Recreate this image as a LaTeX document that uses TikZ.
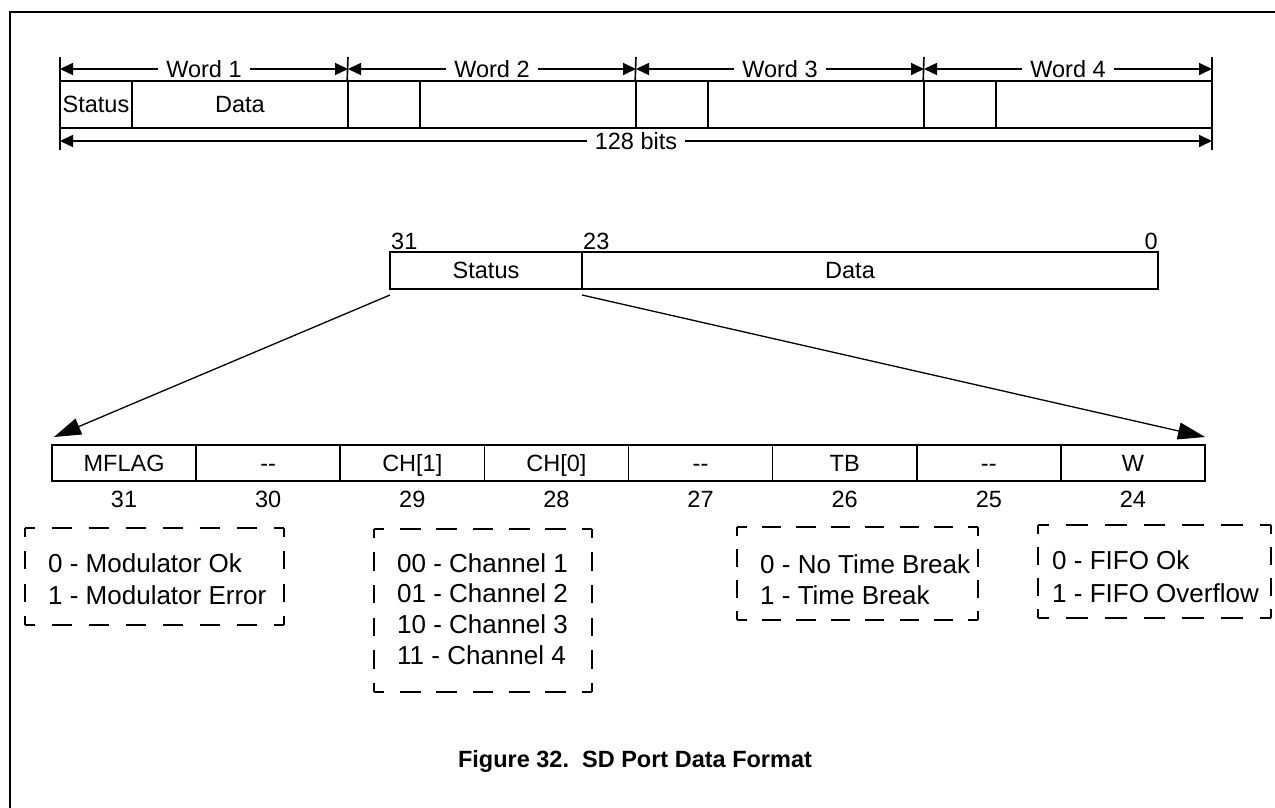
\documentclass[tikz,border=0pt]{standalone}
\usepackage{fontspec}
\setmainfont{Liberation Sans}
\usetikzlibrary{arrows.meta}
\newcommand{\mydashseg}[4]{%
  \pgfmathsetmacro\dsL{veclen((#3)-(#1),(#4)-(#2))}%
  \pgfmathsetmacro\dsN{max(1,round(\dsL/36))}%
  \pgfmathsetmacro\dsP{\dsL/\dsN}%
  \pgfmathsetmacro\dsOn{0.56*\dsP}%
  \pgfmathsetmacro\dsOff{\dsP-\dsOn}%
  \pgfmathsetmacro\dsPh{\dsOn/2}%
  \draw[dashline, dash pattern=on \dsOn pt off \dsOff pt, dash phase=\dsPh pt] (#1,#2) -- (#3,#4);%
}
\newcommand{\mydashrect}[4]{%
  \mydashseg{#1}{#2}{#3}{#2}\mydashseg{#3}{#2}{#3}{#4}%
  \mydashseg{#3}{#4}{#1}{#4}\mydashseg{#1}{#4}{#1}{#2}%
}
\begin{document}
\begin{tikzpicture}[x=1pt,y=-1pt,
  frameline/.style={line width=2.2pt, line cap=rect},
  lbl/.style={font=\fontsize{23.5}{28}\selectfont, inner sep=0pt, text height=16.8pt, text depth=0pt},
  cell/.style={draw, line width=1.6pt, lbl},
  tick/.style={line width=1.6pt},
  dimarrow/.style={line width=1.6pt, {Triangle[length=13pt,width=12pt]}-{Triangle[length=13pt,width=12pt]}},
  dimlabel/.style={lbl, fill=white, inner xsep=8pt, inner ysep=3pt},
  bigarrow/.style={line width=1.3pt, -{Triangle[length=27pt,width=17pt]}},
  dashline/.style={line width=2pt},
  boxtxt/.style={font=\fontsize{26}{31}\selectfont, anchor=west, inner sep=0pt, text height=18.6pt, text depth=0pt},
  caption/.style={font=\bfseries\fontsize{23.5}{28}\selectfont, inner sep=0pt, text height=16.8pt, text depth=0pt}
]
\useasboundingbox (0,0) rectangle (1275,808);
% frame
\coordinate (fTR) at (1275,12);
\coordinate (fTL) at (10,12);
\coordinate (fBL) at (10,808);
\draw[frameline] (fTR) -- (fTL) -- (fBL);

% ---- top 128-bit row ----
\node[cell, minimum width=72pt, minimum height=47pt] (w1s) at (96,104.5) {Status};
\node[cell, minimum width=216pt, minimum height=47pt] (w1d) at (240,104.5) {Data};
\node[cell, minimum width=72pt, minimum height=47pt] (w2s) at (384,104.5) {};
\node[cell, minimum width=216pt, minimum height=47pt] (w2d) at (528,104.5) {};
\node[cell, minimum width=72pt, minimum height=47pt] (w3s) at (672,104.5) {};
\node[cell, minimum width=216pt, minimum height=47pt] (w3d) at (816,104.5) {};
\node[cell, minimum width=72pt, minimum height=47pt] (w4s) at (960,104.5) {};
\node[cell, minimum width=216pt, minimum height=47pt] (w4d) at (1104,104.5) {};

\coordinate (t0) at (60,57);
\coordinate (t1) at (348,57);
\coordinate (t2) at (636,57);
\coordinate (t3) at (924,57);
\coordinate (t4) at (1212,57);
\coordinate (b0) at (60,150);
\coordinate (b4) at (1212,150);
\draw[tick] (t0) -- (b0);
\draw[tick] (t4) -- (b4);
\draw[tick] (t1) -- (w2s.north west);
\draw[tick] (t2) -- (w3s.north west);
\draw[tick] (t3) -- (w4s.north west);

\coordinate (a0) at (60,69);
\coordinate (a1) at (348,69);
\coordinate (a2) at (636,69);
\coordinate (a3) at (924,69);
\coordinate (a4) at (1212,69);
\draw[dimarrow] (a0) -- (a1) node[midway, dimlabel] (lw1) {Word 1};
\draw[dimarrow] (a1) -- (a2) node[midway, dimlabel] (lw2) {Word 2};
\draw[dimarrow] (a2) -- (a3) node[midway, dimlabel] (lw3) {Word 3};
\draw[dimarrow] (a3) -- (a4) node[midway, dimlabel] (lw4) {Word 4};

\coordinate (c0) at (60,141);
\coordinate (c1) at (1212,141);
\draw[dimarrow] (c0) -- (c1) node[midway, dimlabel] (l128) {128 bits};

% ---- 32-bit word ----
\node[cell, minimum width=192pt, minimum height=37pt] (ms) at (486,270.5) {Status};
\node[cell, minimum width=576pt, minimum height=37pt] (md) at (870,270.5) {};
\node[lbl] (mdl) at (850,270.5) {Data};
\node[lbl, anchor=west] (n31) at (391,241) {31};
\node[lbl, anchor=west] (n23) at (583,241) {23};
\node[lbl, anchor=east] (n0) at (1158,241) {0};

% ---- status byte register ----
\foreach \lab/\num [count=\i from 0] in {MFLAG/31, -{}-/30, CH[1]/29, CH[0]/28, -{}-/27, TB/26, -{}-/25, W/24}{
  \node[cell, minimum width=144.125pt, minimum height=36pt] (r\i) at ({52+144.125*(\i+0.5)},463) {\lab};
  \node[lbl] (rn\i) at ({52+144.125*(\i+0.5)},499) {\num};
}

% expansion arrows
\coordinate (s1) at (390,295);
\coordinate (s2) at (582,295);
\coordinate (e1) at (54,437);
\coordinate (e2) at (1205,437);
\draw[bigarrow] (s1) -- (e1);
\draw[bigarrow] (s2) -- (e2);

% ---- dashed legend boxes ----
\mydashrect{25}{528}{284}{625}
\node[boxtxt] (m0) at (48,563) {0 - Modulator Ok};
\node[boxtxt] (m1) at (48,595) {1 - Modulator Error};

\mydashrect{374}{529}{592}{692}
\node[boxtxt] (ch0) at (397,563) {00 - Channel 1};
\node[boxtxt] (ch1) at (397,593.5) {01 - Channel 2};
\node[boxtxt] (ch2) at (397,624) {10 - Channel 3};
\node[boxtxt] (ch3) at (397,655) {11 - Channel 4};

\mydashrect{737}{527}{978}{620}
\node[boxtxt] (tb0) at (760,564) {0 - No Time Break};
\node[boxtxt] (tb1) at (760,595) {1 - Time Break};

\mydashrect{1038}{525}{1271}{618}
\node[boxtxt] (ff0) at (1052,560) {0 - FIFO Ok};
\node[boxtxt] (ff1) at (1052,593) {1 - FIFO Overflow};

% caption
\node[caption] (cap) at (635,759) {Figure 32.\ \ SD Port Data Format};
\end{tikzpicture}
\end{document}
